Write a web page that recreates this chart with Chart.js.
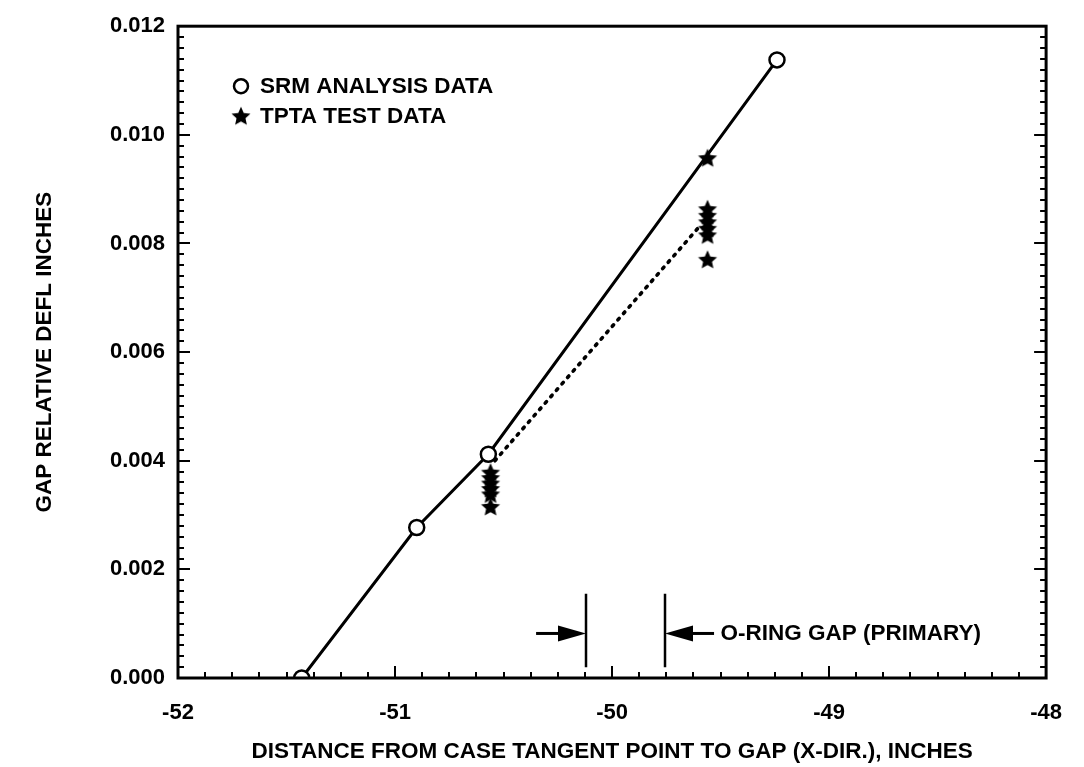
<!DOCTYPE html>
<html><head><meta charset="utf-8">
<script src="https://cdn.jsdelivr.net/npm/chart.js@4/dist/chart.umd.min.js"></script>
<style>html,body{margin:0;padding:0;background:#fff}#wrap{width:1084px;height:767px}</style>
</head><body><div id="wrap"><canvas id="c" width="1084" height="767"></canvas></div>
<script>
// ---- data ----
const srmX = [-51.43, -50.90, -50.57, -49.24];
const srmY = [0.0000, 0.00277, 0.00412, 0.01138];
const tptaX = [-49.56, -50.56, -50.56, -50.56, -50.56, -50.56, -50.56, -49.56, -49.56, -49.56, -49.56, -49.56, -49.56];
const tptaY = [0.00957, 0.00378, 0.00368, 0.00358, 0.00348, 0.00338, 0.00315, 0.00863, 0.00851, 0.00839, 0.00827, 0.00815, 0.00770];
const trendX = [-50.54, -49.60];
const trendY = [0.00400, 0.00830];
const gapLeftX = [-50.12, -50.12];
const gapRightX = [-49.756, -49.756];
const gapLineY = [0.0002, 0.00155];
const arrowY = 0.00082;
const arrowLeftFrom = -50.35, arrowRightFrom = -49.53;
const gapLabelX = -49.50;
const gapLabel = "O-RING GAP (PRIMARY)";
const legendLabels = ["SRM ANALYSIS DATA", "TPTA TEST DATA"];
const xTickLabels = [-52, -51, -50, -49, -48];
const yTickLabels = [0.000, 0.002, 0.004, 0.006, 0.008, 0.010, 0.012];
const xTitle = "DISTANCE FROM CASE TANGENT POINT TO GAP (X-DIR.), INCHES";
const yTitle = "GAP RELATIVE DEFL INCHES";

const FONT = "'Liberation Sans', Arial, Helvetica, sans-serif";
const FS = 22.5;
const FT = 22;

function starCanvas(r){
  const s = Math.ceil(r*2+2);
  const c = document.createElement('canvas'); c.width = s; c.height = s;
  const g = c.getContext('2d');
  g.beginPath();
  for(let i=0;i<10;i++){
    const rr = (i%2===0) ? r : r*0.47;
    const a = -Math.PI/2 + i*Math.PI/5;
    g.lineTo(s/2 + rr*Math.cos(a), s/2 + 0.5 + rr*Math.sin(a));
  }
  g.closePath(); g.fillStyle = '#000'; g.fill();
  return c;
}
const STAR = starCanvas(10);

const pts = (xs, ys) => xs.map((x,i)=>({x:x, y:ys[i]}));

const framePlugin = {
  id: 'frame',
  afterDraw(chart){
    const {ctx, chartArea:a, scales:{x, y}} = chart;
    ctx.save();
    ctx.strokeStyle = '#000';
    ctx.lineWidth = 2;
    for(let i=0;i<=32;i++){
      const v = x.min + i*0.125;
      const px = Math.round(x.getPixelForValue(v));
      const len = (i%8===0) ? 12 : 6;
      ctx.beginPath(); ctx.moveTo(px, a.bottom); ctx.lineTo(px, a.bottom-len); ctx.stroke();
    }
    for(let i=0;i<=60;i++){
      const v = y.min + i*0.0002;
      const py = Math.round(y.getPixelForValue(v));
      const len = (i%10===0) ? 12 : 6;
      ctx.beginPath(); ctx.moveTo(a.left, py); ctx.lineTo(a.left+len, py); ctx.stroke();
      ctx.beginPath(); ctx.moveTo(a.right, py); ctx.lineTo(a.right-len, py); ctx.stroke();
    }
    ctx.lineWidth = 3;
    ctx.strokeRect(a.left, a.top, a.right-a.left, a.bottom-a.top);

    const ay = y.getPixelForValue(arrowY);
    function arrow(fromV, toV){
      const x0 = x.getPixelForValue(fromV), x1 = x.getPixelForValue(toV);
      const dir = Math.sign(x1-x0);
      ctx.lineWidth = 3;
      ctx.beginPath(); ctx.moveTo(x0, ay); ctx.lineTo(x1 - dir*20, ay); ctx.stroke();
      ctx.beginPath(); ctx.moveTo(x1, ay); ctx.lineTo(x1 - dir*28, ay-8); ctx.lineTo(x1 - dir*28, ay+8); ctx.closePath();
      ctx.fillStyle='#000'; ctx.fill();
    }
    arrow(arrowLeftFrom, gapLeftX[0]);
    arrow(arrowRightFrom, gapRightX[0]);
    ctx.font = `bold ${FS}px ${FONT}`;
    ctx.fillStyle = '#000'; ctx.textBaseline = 'middle'; ctx.textAlign = 'left';
    ctx.fillText(gapLabel, x.getPixelForValue(gapLabelX), ay);

    const lx = a.left + 63, ly = a.top + 60;
    ctx.lineWidth = 2.5;
    ctx.beginPath(); ctx.arc(lx, ly, 7, 0, Math.PI*2); ctx.stroke();
    ctx.drawImage(STAR, lx - STAR.width/2, ly + 30 - STAR.height/2);
    ctx.fillText(legendLabels[0], lx + 19, ly + 1);
    ctx.fillText(legendLabels[1], lx + 19, ly + 31);
    ctx.restore();
  }
};

new Chart(document.getElementById('c'), {
  type: 'scatter',
  data: {
    datasets: [
      { label: legendLabels[0], data: pts(srmX, srmY), showLine: true, borderColor: '#000', borderWidth: 3,
        pointStyle: 'circle', pointRadius: 7.5, pointBorderWidth: 2.5, pointBackgroundColor: '#fff', pointBorderColor: '#000', order: 2 },
      { label: legendLabels[1], data: pts(tptaX, tptaY), showLine: false, pointStyle: STAR, pointRadius: 10, order: 1 },
      { label: 'trend', data: pts(trendX, trendY), showLine: true, borderColor: '#000', borderWidth: 3.6,
        borderDash: [2, 6.5], borderCapStyle: 'round', pointRadius: 0, order: 3 },
      { label: 'gapL', data: pts(gapLeftX, gapLineY), showLine: true, borderColor: '#000', borderWidth: 2.5, pointRadius: 0 },
      { label: 'gapR', data: pts(gapRightX, gapLineY), showLine: true, borderColor: '#000', borderWidth: 2.5, pointRadius: 0 }
    ]
  },
  options: {
    responsive: false, animation: false, devicePixelRatio: 1,
    layout: { padding: { top: 22, right: 23, left: 0, bottom: 0 } },
    plugins: { legend: { display: false }, tooltip: { enabled: false } },
    scales: {
      x: { type: 'linear', min: -52, max: -48,
        afterFit(s){ s.height = 89; },
        grid: { display: false, drawTicks: false }, border: { display: false },
        ticks: { stepSize: 1, padding: 22, color: '#000', font: { family: FONT, size: FT, weight: 'bold' },
          callback: (v) => xTickLabels.includes(v) ? String(v) : '' },
        title: { display: true, text: xTitle, color: '#000', padding: { top: 0, bottom: 1.5 }, font: { family: FONT, size: FS, weight: 'bold' } }
      },
      y: { type: 'linear', min: 0, max: 0.012,
        afterFit(s){ s.width = 178; },
        grid: { display: false, drawTicks: false }, border: { display: false },
        ticks: { stepSize: 0.002, padding: 13, color: '#000', font: { family: FONT, size: FT, weight: 'bold' },
          callback: (v) => { const m = yTickLabels.find(t => Math.abs(t - v) < 1e-9); return m === undefined ? '' : m.toFixed(3); } },
        title: { display: true, text: yTitle, color: '#000', padding: { top: 31.5, bottom: 0 }, font: { family: FONT, size: FS, weight: 'bold' } }
      }
    }
  },
  plugins: [framePlugin]
});
</script></body></html>
